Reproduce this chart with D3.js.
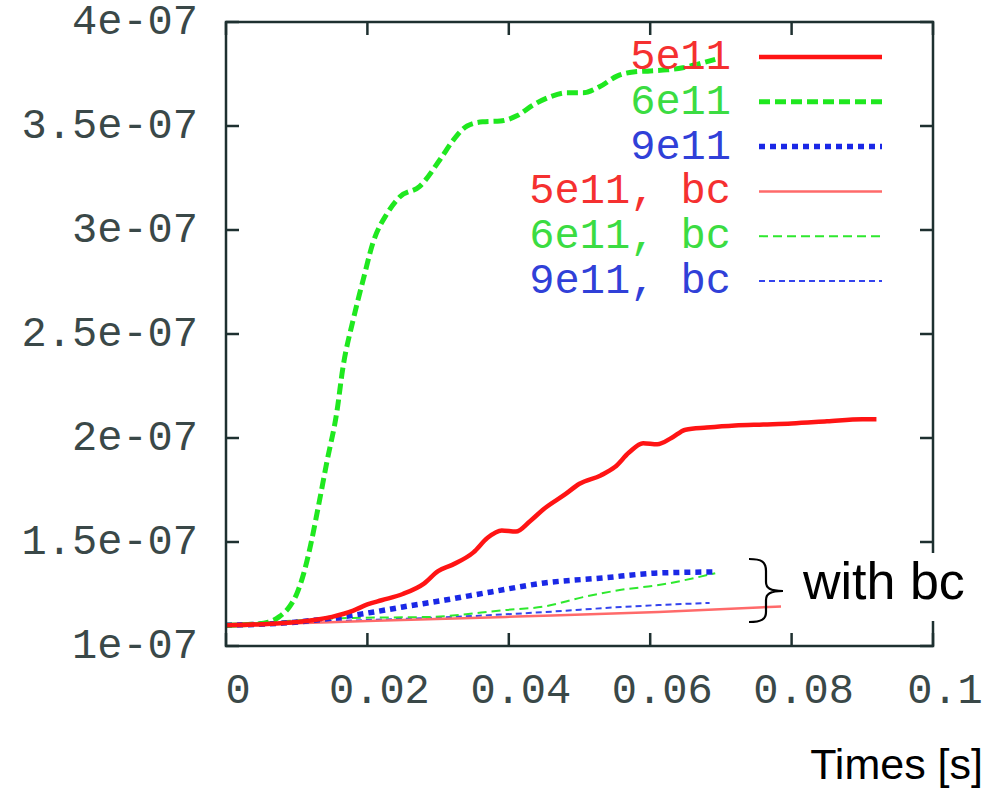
<!DOCTYPE html>
<html>
<head>
<meta charset="utf-8">
<script src="https://cdn.jsdelivr.net/npm/d3@7.9.0/dist/d3.min.js"></script>
<style>
  html, body { margin: 0; padding: 0; background: #fff; }
  svg { display: block; }
  .tick-label { font-family: "Liberation Mono", "DejaVu Sans Mono", monospace; font-size: 42px; fill: #3a4848; }
  .legend-label { font-family: "Liberation Mono", "DejaVu Sans Mono", monospace; font-size: 42px; }
  .note { font-family: "Liberation Sans", Arial, sans-serif; fill: #000; }
</style>
</head>
<body>
<svg id="chart" width="984" height="798"></svg>
<script>
// values are in units of 1e-7
const xTicks = [0, 0.02, 0.04, 0.06, 0.08, 0.1];
const xTickLabels = ['0', '0.02', '0.04', '0.06', '0.08', '0.1'];
const yTicks = [1, 1.5, 2, 2.5, 3, 3.5, 4];
const yTickLabels = ['1e-07', '1.5e-07', '2e-07', '2.5e-07', '3e-07', '3.5e-07', '4e-07'];

const red5e11 = [
  [0, 1.10], [0.005, 1.105], [0.01, 1.115], [0.015, 1.14], [0.018, 1.17], [0.02, 1.2],
  [0.022, 1.22], [0.025, 1.25], [0.028, 1.30], [0.03, 1.36], [0.032, 1.39], [0.035, 1.45],
  [0.037, 1.52], [0.039, 1.555], [0.041, 1.55], [0.043, 1.60], [0.045, 1.66], [0.048, 1.73],
  [0.05, 1.78], [0.053, 1.82], [0.055, 1.86], [0.057, 1.93], [0.059, 1.975], [0.061, 1.97],
  [0.063, 2.00], [0.065, 2.04], [0.068, 2.05], [0.072, 2.06], [0.076, 2.065], [0.08, 2.07],
  [0.085, 2.08], [0.09, 2.09], [0.092, 2.09]
];
const green6e11 = [
  [0, 1.10], [0.004, 1.105], [0.006, 1.115], [0.0075, 1.14], [0.009, 1.19], [0.01, 1.25],
  [0.011, 1.35], [0.012, 1.49], [0.013, 1.66], [0.0143, 1.89], [0.0157, 2.13], [0.0165, 2.33],
  [0.018, 2.57], [0.0194, 2.76], [0.0208, 2.94], [0.0228, 3.08], [0.0246, 3.16], [0.0274, 3.21],
  [0.0303, 3.34], [0.0321, 3.43], [0.0341, 3.50], [0.0363, 3.52], [0.0388, 3.524], [0.0412, 3.55],
  [0.0434, 3.60], [0.0458, 3.64], [0.0482, 3.66], [0.0505, 3.66], [0.0529, 3.69], [0.0553, 3.74],
  [0.0576, 3.76], [0.06, 3.765], [0.0624, 3.77], [0.0646, 3.78], [0.067, 3.80], [0.0692, 3.82]
];
const blue9e11 = [
  [0, 1.10], [0.008, 1.11], [0.0153, 1.135], [0.0201, 1.159], [0.025, 1.1875], [0.031, 1.221],
  [0.0375, 1.26], [0.045, 1.303], [0.0532, 1.327], [0.0612, 1.351], [0.0692, 1.356]
];
const red5e11bc = [
  [0, 1.10], [0.02, 1.12], [0.0396, 1.14], [0.0612, 1.163], [0.0785, 1.19]
];
const green6e11bc = [
  [0, 1.10], [0.018, 1.135], [0.0289, 1.14], [0.0396, 1.173], [0.045, 1.19], [0.0505, 1.235],
  [0.0559, 1.27], [0.0612, 1.293], [0.0692, 1.35]
];
const blue9e11bc = [
  [0, 1.10], [0.02, 1.125], [0.0289, 1.135], [0.045, 1.163], [0.0559, 1.1875], [0.0612, 1.197],
  [0.0684, 1.207]
];

const series = [
  { name: '5e11', data: red5e11, color: '#ff1414', text: '#f53030', width: 4.5, dash: null },
  { name: '6e11', data: green6e11, color: '#1fe81f', text: '#3bdc42', width: 5, dash: '11,5' },
  { name: '9e11', data: blue9e11, color: '#1a28e6', text: '#3040d8', width: 5.5, dash: '6,5' },
  { name: '5e11, bc', data: red5e11bc, color: '#ff6a6a', text: '#f53030', width: 2.5, dash: null },
  { name: '6e11, bc', data: green6e11bc, color: '#2ee82e', text: '#3bdc42', width: 2, dash: '9,5' },
  { name: '9e11, bc', data: blue9e11bc, color: '#3444ee', text: '#3040d8', width: 2, dash: '6,4' }
];

const svg = d3.select('#chart');
const plotLeft = 226, plotRight = 933, plotTop = 22, plotBottom = 646;

const x = d3.scaleLinear().domain([0, 0.1]).range([plotLeft, plotRight]);
const y = d3.scaleLinear().domain([1, 4]).range([plotBottom, plotTop]);

const line = d3.line()
  .x(d => x(d[0]))
  .y(d => y(d[1]))
  .curve(d3.curveMonotoneX);

// curves (drawn in reverse so thick ones stay on top)
svg.append('g')
  .selectAll('path')
  .data(series.slice().reverse())
  .join('path')
  .attr('d', d => line(d.data))
  .attr('fill', 'none')
  .attr('stroke', d => d.color)
  .attr('stroke-width', d => d.width)
  .attr('stroke-dasharray', d => d.dash)
  .attr('stroke-linejoin', 'round');

// frame + ticks (mirrored, inward like gnuplot)
const frameColor = '#1e3030';
const tickLen = 13;
const axes = svg.append('g').attr('stroke', frameColor).attr('stroke-width', 2.5);

axes.selectAll('line.xb')
  .data(xTicks)
  .enter().append('line')
  .attr('x1', d => x(d)).attr('x2', d => x(d))
  .attr('y1', plotBottom).attr('y2', plotBottom - tickLen);
axes.selectAll('line.xt')
  .data(xTicks)
  .enter().append('line')
  .attr('x1', d => x(d)).attr('x2', d => x(d))
  .attr('y1', plotTop).attr('y2', plotTop + tickLen);
axes.selectAll('line.yl')
  .data(yTicks)
  .enter().append('line')
  .attr('x1', plotLeft).attr('x2', plotLeft + tickLen)
  .attr('y1', d => y(d)).attr('y2', d => y(d));
axes.selectAll('line.yr')
  .data(yTicks)
  .enter().append('line')
  .attr('x1', plotRight).attr('x2', plotRight - tickLen)
  .attr('y1', d => y(d)).attr('y2', d => y(d));

axes.append('rect')
  .attr('x', plotLeft).attr('y', plotTop)
  .attr('width', plotRight - plotLeft).attr('height', plotBottom - plotTop)
  .attr('fill', 'none');

// tick labels
svg.append('g')
  .selectAll('text')
  .data(xTicks)
  .join('text')
  .attr('class', 'tick-label')
  .attr('x', d => x(d) + 12)
  .attr('y', 703)
  .attr('text-anchor', 'middle')
  .text((d, i) => xTickLabels[i]);

svg.append('g')
  .selectAll('text')
  .data(yTicks)
  .join('text')
  .attr('class', 'tick-label')
  .attr('x', 198)
  .attr('y', d => y(d) + 12)
  .attr('text-anchor', 'end')
  .text((d, i) => yTickLabels[i]);

// legend
const legendY = d3.scalePoint().domain(series.map(d => d.name)).range([57, 281]);
const legend = svg.append('g')
  .selectAll('g')
  .data(series)
  .join('g')
  .attr('transform', d => `translate(0,${legendY(d.name)})`);

legend.append('text')
  .attr('class', 'legend-label')
  .attr('x', 731)
  .attr('y', 12)
  .attr('text-anchor', 'end')
  .attr('fill', d => d.text)
  .text(d => d.name);

legend.append('line')
  .attr('x1', 759).attr('x2', 882)
  .attr('y1', 0).attr('y2', 0)
  .attr('stroke', d => d.color)
  .attr('stroke-width', d => d.width)
  .attr('stroke-dasharray', d => d.dash);

// "with bc" annotation, its white box hides part of the frame
svg.append('rect')
  .attr('x', 784).attr('y', 553)
  .attr('width', 200).attr('height', 68)
  .attr('fill', '#fff');

svg.append('path')
  .attr('d', 'M749,559 C762,559 766,562 766,571 L766,582 C766,588 770,591 783,591 C770,591 766,594 766,600 L766,612 C766,619 762,622 749,622')
  .attr('fill', 'none')
  .attr('stroke', '#000')
  .attr('stroke-width', 2.2);

svg.append('text')
  .attr('class', 'note')
  .attr('x', 803)
  .attr('y', 599)
  .attr('font-size', 52)
  .text('with bc');

svg.append('text')
  .attr('class', 'note')
  .attr('x', 983)
  .attr('y', 779)
  .attr('text-anchor', 'end')
  .attr('font-size', 43)
  .text('Times [s]');
</script>
</body>
</html>
